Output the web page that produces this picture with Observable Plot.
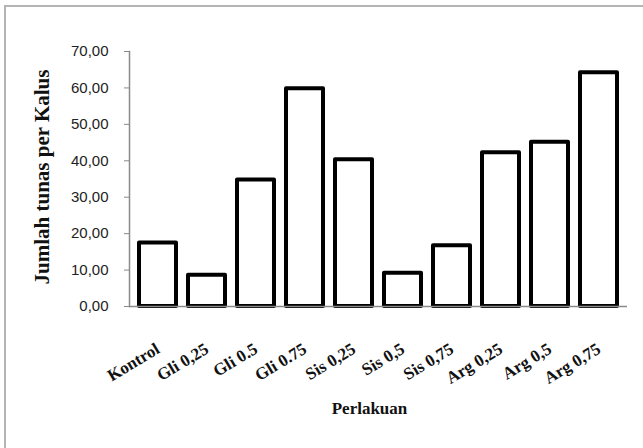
<!DOCTYPE html>
<html><head><meta charset="utf-8">
<script src="https://cdn.jsdelivr.net/npm/d3@7"></script>
<script src="https://cdn.jsdelivr.net/npm/@observablehq/plot@0.6"></script>
<style>
html,body{margin:0;padding:0;background:#fff;}
#wrap{position:relative;width:643px;height:448px;overflow:hidden;}
#frame{position:absolute;left:4px;top:5px;width:700px;height:500px;border-left:2px solid #b4b4b4;border-top:2px solid #b4b4b4;pointer-events:none;}
#chart{position:absolute;left:0;top:0;}
</style></head><body>
<div id="wrap"><div id="chart"></div><div id="frame"></div></div>
<script>
const categories = ["Kontrol","Gli 0,25","Gli 0.5","Gli 0.75","Sis 0,25","Sis 0,5","Sis 0,75","Arg 0,25","Arg 0,5","Arg 0,75"];
const values = [17.4, 8.6, 34.7, 59.8, 40.3, 9.1, 16.7, 42.2, 45.1, 64.2];
const yTicks = [0,10,20,30,40,50,60,70];
const yTitle = "Jumlah tunas per Kalus";
const xTitle = "Perlakuan";

const data = categories.map((c,i)=>({cat:c, val:values[i]}));
const fmt = d => d3.format(".2f")(d).replace(".", ",");
const serif = "Liberation Serif, 'Times New Roman', serif";

const chart = Plot.plot({
  width: 643,
  height: 448,
  marginLeft: 129,
  marginRight: 16,
  marginTop: 51,
  marginBottom: 142,
  style: {background: "transparent", overflow: "visible"},
  x: {domain: categories, paddingInner: 0.25, paddingOuter: 0.125, axis: null},
  y: {domain: [0,70], axis: null},
  marks: [
    Plot.barY(data, {x:"cat", y:"val", fill:"white", stroke:"black", strokeWidth:4, strokeLinejoin:"round"}),
    Plot.ruleY([0], {stroke:"#8a8a8a", strokeWidth:1.5}),
    Plot.frame({anchor:"left", stroke:"#8a8a8a", strokeWidth:1.5}),
    Plot.axisY({ticks: yTicks, tickFormat: fmt, tickSize: 5, tickPadding: 16, stroke:"#8a8a8a", fontSize: 15, fontFamily: "Liberation Sans, Arial, sans-serif", fill:"#222", label: null}),
    Plot.axisX({tickSize: 0, tickRotate: -31, tickPadding: 41, fontSize: 17, fontWeight: "bold", fontFamily: serif, fill:"#111", label: null}),
    Plot.text([yTitle], {text: d=>d, frameAnchor: "left", textAnchor: "middle", dx: -87, dy: -2, rotate: -90, fontSize: 21, fontWeight: "bold", fontFamily: serif, fill:"#111"}),
    Plot.text([xTitle], {text: d=>d, frameAnchor: "bottom", dx: -9, dy: 107, fontSize: 17, fontWeight: "bold", fontFamily: serif, fill:"#111"})
  ]
});
document.getElementById("chart").appendChild(chart);
</script>
</body></html>
